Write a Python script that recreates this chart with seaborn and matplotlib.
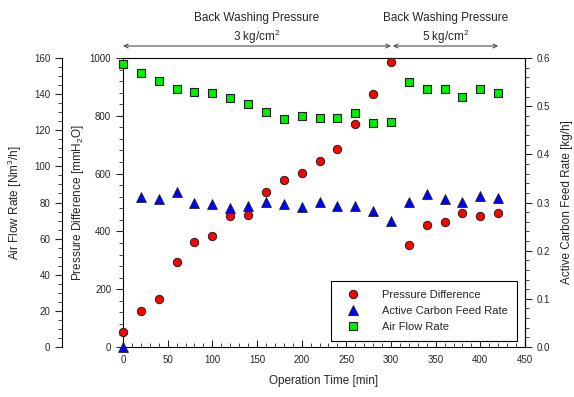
import numpy as np
import pandas as pd
import matplotlib
matplotlib.use("Agg")
import matplotlib.pyplot as plt
from matplotlib.ticker import MultipleLocator
from matplotlib.lines import Line2D
import seaborn as sns

# datos
time = [0, 20, 40, 60, 80, 100, 120, 140, 160, 180, 200, 220, 240, 260, 280, 300,
        320, 340, 360, 380, 400, 420]
pressure = [53, 125, 166, 293, 362, 385, 453, 456, 536, 578, 601, 642, 686, 772, 875, 987,
            352, 421, 433, 465, 453, 465]
carbon_feed = [0.0, 0.311, 0.307, 0.322, 0.300, 0.296, 0.289, 0.293, 0.301, 0.296, 0.291,
               0.301, 0.293, 0.292, 0.282, 0.262, 0.301, 0.318, 0.307, 0.301, 0.313, 0.310]
air_flow = [156.7, 151.7, 147.4, 142.8, 141.2, 140.8, 137.9, 134.7, 130.3, 126.4, 127.9,
            127.0, 126.6, 129.4, 123.8, 124.4, 146.9, 142.7, 143.0, 138.6, 142.7, 140.8]

df = pd.DataFrame({'time': time, 'pressure': pressure,
                   'carbon': carbon_feed, 'air': air_flow})

sns.set_style("ticks")
plt.rcParams['font.family'] = ['Liberation Sans', 'DejaVu Sans']
plt.rcParams['mathtext.fontset'] = 'custom'
plt.rcParams['mathtext.rm'] = 'Liberation Sans'
plt.rcParams['mathtext.it'] = 'Liberation Sans:italic'
plt.rcParams['axes.edgecolor'] = 'black'
plt.rcParams['axes.linewidth'] = 0.8

fig = plt.figure(figsize=(5.74, 3.97), dpi=100)
ax = fig.add_axes([0.2143, 0.1259, 0.7003, 0.728])
ax_air = ax.twinx()
ax_acf = ax.twinx()

tick_fs = 7
lab_fs = 8.5

# Pressure difference (eje principal)
sns.scatterplot(data=df, x='time', y='pressure', ax=ax, marker='o', color='#ff0000',
                s=36, edgecolor='#202020', linewidth=0.7, zorder=3, clip_on=False)
# Active carbon feed rate (eje derecho)
sns.scatterplot(data=df, x='time', y='carbon', ax=ax_acf, marker='^', color='#0000ff',
                s=50, edgecolor='#202020', linewidth=0.6, zorder=3, clip_on=False)
# Air flow rate (eje izquierdo exterior)
sns.scatterplot(data=df, x='time', y='air', ax=ax_air, marker='s', color='#00ee00',
                s=34, edgecolor='#202020', linewidth=0.8, zorder=3, clip_on=False)

ax.set_xlim(0, 450)
ax.set_ylim(0, 1000)
ax_acf.set_ylim(0, 0.6)
ax_air.set_ylim(0, 160)

# eje principal
ax.xaxis.set_major_locator(MultipleLocator(50))
ax.xaxis.set_minor_locator(MultipleLocator(10))
ax.yaxis.set_major_locator(MultipleLocator(200))
ax.yaxis.set_minor_locator(MultipleLocator(40))
ax.tick_params(axis='x', which='both', direction='in', top=False, labelsize=tick_fs, pad=6)
ax.tick_params(axis='x', which='major', length=5)
ax.tick_params(axis='x', which='minor', length=3)
ax.tick_params(axis='y', which='both', direction='out', right=False, labelsize=tick_fs)
ax.tick_params(axis='y', which='major', length=5)
ax.tick_params(axis='y', which='minor', length=3)
ax.set_xlabel('Operation Time [min]', fontsize=lab_fs, labelpad=7)
ax.set_ylabel('Pressure Difference [mmH$_2$O]', fontsize=lab_fs)
ax.yaxis.set_label_coords(-0.092, 0.5)
for s in ax.spines.values():
    s.set_visible(True)
    s.set_linewidth(0.8)

# eje derecho
ax_acf.yaxis.set_major_locator(MultipleLocator(0.1))
ax_acf.yaxis.set_minor_locator(MultipleLocator(0.02))
ax_acf.yaxis.set_major_formatter(plt.FormatStrFormatter('%.1f'))
ax_acf.tick_params(axis='y', which='both', direction='out', labelsize=tick_fs)
ax_acf.tick_params(axis='y', which='major', length=5)
ax_acf.tick_params(axis='y', which='minor', length=3)
ax_acf.set_ylabel('Active Carbon Feed Rate [kg/h]', fontsize=lab_fs)
ax_acf.yaxis.set_label_coords(1.09, 0.5)
ax_acf.set_xlabel('')
for k in ['left', 'top', 'bottom']:
    ax_acf.spines[k].set_visible(False)

# eje izquierdo exterior
ax_air.spines['left'].set_position(('axes', -0.152))
ax_air.spines['left'].set_visible(True)
ax_air.yaxis.set_label_position('left')
ax_air.yaxis.set_ticks_position('left')
for k in ['right', 'top', 'bottom']:
    ax_air.spines[k].set_visible(False)
ax_air.yaxis.set_major_locator(MultipleLocator(20))
ax_air.yaxis.set_minor_locator(MultipleLocator(5))
ax_air.tick_params(axis='y', which='both', direction='out', labelsize=tick_fs)
ax_air.tick_params(axis='y', which='major', length=5)
ax_air.tick_params(axis='y', which='minor', length=3)
ax_air.set_ylabel('Air Flow Rate [Nm$^3$/h]', fontsize=lab_fs)
ax_air.yaxis.set_label_coords(-0.246, 0.5)
ax_air.set_xlabel('')

# flechas de presion de lavado
arrow_kw = dict(arrowstyle='<->', color='0.3', lw=0.8, shrinkA=0, shrinkB=0,
                mutation_scale=7)
ax.annotate('', xy=(0, 1.0415), xytext=(300, 1.0415),
            xycoords=('data', 'axes fraction'), textcoords=('data', 'axes fraction'),
            arrowprops=arrow_kw, annotation_clip=False)
ax.annotate('', xy=(302, 1.0415), xytext=(420, 1.0415),
            xycoords=('data', 'axes fraction'), textcoords=('data', 'axes fraction'),
            arrowprops=arrow_kw, annotation_clip=False)
for xc, p in [(150, '3'), (361, '5')]:
    ax.text(xc, 1.138, 'Back Washing Pressure', transform=ax.get_xaxis_transform(),
            ha='center', va='center', fontsize=lab_fs)
    ax.text(xc, 1.073, p + ' kg/cm$^2$', transform=ax.get_xaxis_transform(),
            ha='center', va='center', fontsize=lab_fs)

# leyenda
handles = [
    Line2D([], [], ls='none', marker='o', color='#ff0000', markeredgecolor='#202020',
           markersize=6, markeredgewidth=0.7),
    Line2D([], [], ls='none', marker='^', color='#0000ff', markeredgecolor='#202020',
           markersize=7, markeredgewidth=0.6),
    Line2D([], [], ls='none', marker='s', color='#00ee00', markeredgecolor='#202020',
           markersize=5.5, markeredgewidth=0.8),
]
labels = ['Pressure Difference', 'Active Carbon Feed Rate', 'Air Flow Rate']
for a in (ax, ax_air, ax_acf):
    if a.get_legend() is not None:
        a.get_legend().remove()
leg = ax_acf.legend(handles, labels, loc='lower right', bbox_to_anchor=(0.98, 0.02),
                    fontsize=8, frameon=True, fancybox=False, edgecolor='black',
                    framealpha=1, handletextpad=1.4, borderpad=0.8, labelspacing=0.55,
                    handlelength=2.4, borderaxespad=0)
leg.get_frame().set_linewidth(0.8)

fig.savefig('out.png', dpi=100)
